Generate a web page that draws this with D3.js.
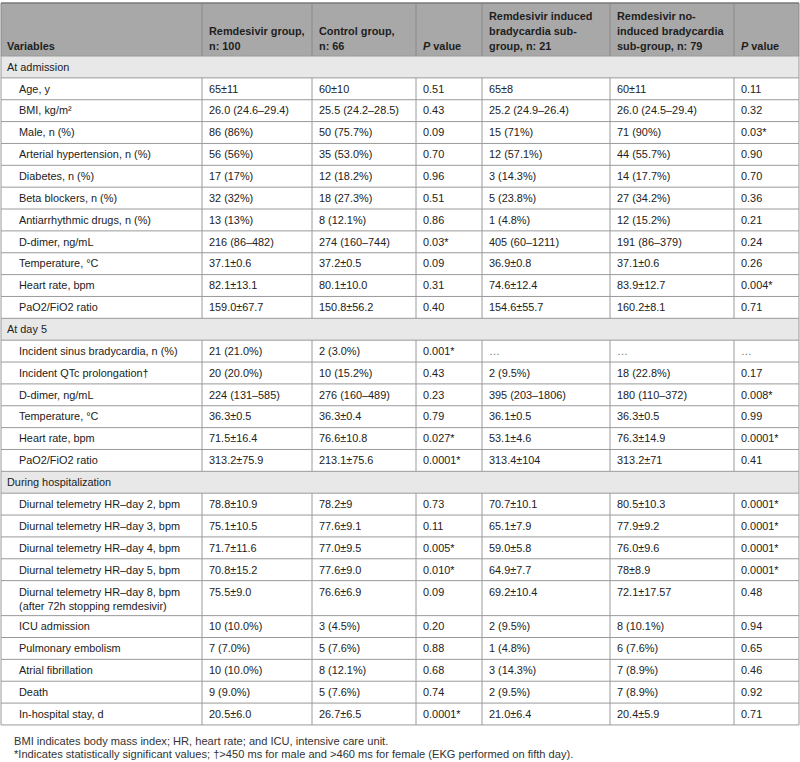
<!DOCTYPE html>
<html>
<head>
<meta charset="utf-8">
<script src="https://cdn.jsdelivr.net/npm/d3@7"></script>
<style>
  body { margin: 0; background: #fff; }
  svg text { font-family: "Liberation Sans", Arial, sans-serif; }
</style>
</head>
<body>
<svg id="tbl"></svg>
<script>
// ---- data ----
var columnHeaders = [
  ["Variables"],
  ["Remdesivir group,", "n: 100"],
  ["Control group,", "n: 66"],
  ["P value"],
  ["Remdesivir induced", "bradycardia sub-", "group, n: 21"],
  ["Remdesivir no-", "induced bradycardia", "sub-group, n: 79"],
  ["P value"]
];
var sectionTitles = ["At admission", "At day 5", "During hospitalization"];
var sectionSizes = [11, 6, 10];

var variables = [
  "Age, y", "BMI, kg/m²", "Male, n (%)", "Arterial hypertension, n (%)", "Diabetes, n (%)",
  "Beta blockers, n (%)", "Antiarrhythmic drugs, n (%)", "D-dimer, ng/mL", "Temperature, °C",
  "Heart rate, bpm", "PaO2/FiO2 ratio",
  "Incident sinus bradycardia, n (%)", "Incident QTc prolongation†", "D-dimer, ng/mL",
  "Temperature, °C", "Heart rate, bpm", "PaO2/FiO2 ratio",
  "Diurnal telemetry HR–day 2, bpm", "Diurnal telemetry HR–day 3, bpm",
  "Diurnal telemetry HR–day 4, bpm", "Diurnal telemetry HR–day 5, bpm",
  "Diurnal telemetry HR–day 8, bpm|(after 72h stopping remdesivir)",
  "ICU admission", "Pulmonary embolism", "Atrial fibrillation", "Death", "In-hospital stay, d"
];
var remdesivirGroup = [
  "65±11", "26.0 (24.6–29.4)", "86 (86%)", "56 (56%)", "17 (17%)", "32 (32%)", "13 (13%)",
  "216 (86–482)", "37.1±0.6", "82.1±13.1", "159.0±67.7",
  "21 (21.0%)", "20 (20.0%)", "224 (131–585)", "36.3±0.5", "71.5±16.4", "313.2±75.9",
  "78.8±10.9", "75.1±10.5", "71.7±11.6", "70.8±15.2", "75.5±9.0",
  "10 (10.0%)", "7 (7.0%)", "10 (10.0%)", "9 (9.0%)", "20.5±6.0"
];
var controlGroup = [
  "60±10", "25.5 (24.2–28.5)", "50 (75.7%)", "35 (53.0%)", "12 (18.2%)", "18 (27.3%)", "8 (12.1%)",
  "274 (160–744)", "37.2±0.5", "80.1±10.0", "150.8±56.2",
  "2 (3.0%)", "10 (15.2%)", "276 (160–489)", "36.3±0.4", "76.6±10.8", "213.1±75.6",
  "78.2±9", "77.6±9.1", "77.0±9.5", "77.6±9.0", "76.6±6.9",
  "3 (4.5%)", "5 (7.6%)", "8 (12.1%)", "5 (7.6%)", "26.7±6.5"
];
var pValueGroups = [
  "0.51", "0.43", "0.09", "0.70", "0.96", "0.51", "0.86", "0.03*", "0.09", "0.31", "0.40",
  "0.001*", "0.43", "0.23", "0.79", "0.027*", "0.0001*",
  "0.73", "0.11", "0.005*", "0.010*", "0.09",
  "0.20", "0.88", "0.68", "0.74", "0.0001*"
];
var bradycardiaSub = [
  "65±8", "25.2 (24.9–26.4)", "15 (71%)", "12 (57.1%)", "3 (14.3%)", "5 (23.8%)", "1 (4.8%)",
  "405 (60–1211)", "36.9±0.8", "74.6±12.4", "154.6±55.7",
  "…", "2 (9.5%)", "395 (203–1806)", "36.1±0.5", "53.1±4.6", "313.4±104",
  "70.7±10.1", "65.1±7.9", "59.0±5.8", "64.9±7.7", "69.2±10.4",
  "2 (9.5%)", "1 (4.8%)", "3 (14.3%)", "2 (9.5%)", "21.0±6.4"
];
var noBradycardiaSub = [
  "60±11", "26.0 (24.5–29.4)", "71 (90%)", "44 (55.7%)", "14 (17.7%)", "27 (34.2%)", "12 (15.2%)",
  "191 (86–379)", "37.1±0.6", "83.9±12.7", "160.2±8.1",
  "…", "18 (22.8%)", "180 (110–372)", "36.3±0.5", "76.3±14.9", "313.2±71",
  "80.5±10.3", "77.9±9.2", "76.0±9.6", "78±8.9", "72.1±17.57",
  "8 (10.1%)", "6 (7.6%)", "7 (8.9%)", "7 (8.9%)", "20.4±5.9"
];
var pValueSub = [
  "0.11", "0.32", "0.03*", "0.90", "0.70", "0.36", "0.21", "0.24", "0.26", "0.004*", "0.71",
  "…", "0.17", "0.008*", "0.99", "0.0001*", "0.41",
  "0.0001*", "0.0001*", "0.0001*", "0.0001*", "0.48",
  "0.94", "0.65", "0.46", "0.92", "0.71"
];
var footnotes = [
  "BMI indicates body mass index; HR, heart rate; and ICU, intensive care unit.",
  "*Indicates statistically significant values; †>450 ms for male and >460 ms for female (EKG performed on fifth day)."
];

drawTable("#tbl");

function drawTable(id){
  var width = 800, height = 762;
  var top = 3, headH = 53, rowH = 21.86, lineH = 14;
  var colEdges = [1, 202, 312, 416, 482, 610, 734, 799];
  var colKeys = d3.range(7);
  var colX = d3.scaleOrdinal().domain(colKeys).range(colEdges);
  var pad = 7, indent = 19;
  var bodySize = "10.9px";
  var columns = [variables, remdesivirGroup, controlGroup, pValueGroups, bradycardiaSub, noBradycardiaSub, pValueSub];

  var svg = d3.select(id).attr("width", width).attr("height", height);

  // build row list: sections + data rows
  var rows = [];
  var k = 0;
  sectionTitles.forEach(function(t, s){
    rows.push({type: "section", label: t});
    for (var j = 0; j < sectionSizes[s]; j++, k++) {
      var lines = variables[k].split("|");
      rows.push({type: "data", idx: k, lines: lines.length});
    }
  });
  var y0 = top + headH;
  rows.forEach(function(r){
    r.h = r.lines > 1 ? 35 : rowH;
    r.y = y0;
    y0 += r.h;
  });
  var tableBottom = y0;

  // header background
  svg.append("rect")
     .attr("x", colX(0)).attr("y", top)
     .attr("width", colEdges[7] - colEdges[0]).attr("height", headH)
     .attr("fill", "#a8a8a8");

  // section backgrounds
  svg.selectAll("rect.sec")
     .data(rows.filter(function(r){ return r.type == "section"; }))
     .enter().append("rect")
     .attr("class", "sec")
     .attr("x", colX(0)).attr("y", function(d){ return d.y; })
     .attr("width", colEdges[7] - colEdges[0]).attr("height", function(d){ return d.h; })
     .attr("fill", "#e8e8e8");

  // horizontal lines
  svg.selectAll("line.h")
     .data(rows.map(function(r){ return r.y; }).concat([tableBottom]))
     .enter().append("line")
     .attr("x1", colX(0)).attr("x2", colEdges[7])
     .attr("y1", function(d){ return d; }).attr("y2", function(d){ return d; })
     .attr("stroke", "#9a9a9a").attr("stroke-width", 1);

  svg.append("line")
     .attr("x1", colX(0)).attr("x2", colEdges[7])
     .attr("y1", top).attr("y2", top)
     .attr("stroke", "#7a7a7a").attr("stroke-width", 1.5);

  // vertical lines: header
  svg.selectAll("line.vh")
     .data(colEdges)
     .enter().append("line")
     .attr("x1", function(d){ return d; }).attr("x2", function(d){ return d; })
     .attr("y1", top).attr("y2", top + headH)
     .attr("stroke", "#888").attr("stroke-width", 1);

  // vertical lines: data rows (skip inner edges on section rows)
  rows.forEach(function(r){
    var edges = r.type == "section" ? [colEdges[0], colEdges[7]] : colEdges;
    svg.append("g").selectAll("line")
       .data(edges)
       .enter().append("line")
       .attr("x1", function(d){ return d; }).attr("x2", function(d){ return d; })
       .attr("y1", r.y).attr("y2", r.y + r.h)
       .attr("stroke", "#9a9a9a").attr("stroke-width", 1);
  });

  // header text
  var headG = svg.append("g");
  columnHeaders.forEach(function(lines, c){
    var n = lines.length;
    lines.forEach(function(t, i){
      var txt = headG.append("text")
         .attr("x", colX(c) + (c == 0 ? 6 : pad))
         .attr("y", top + headH - 6 - (n - 1 - i) * 15)
         .attr("font-size", "10.9px")
         .attr("font-weight", "bold")
         .attr("fill", "#1e1e1e");
      if (t == "P value") {
        txt.append("tspan").attr("font-style", "italic").text("P");
        txt.append("tspan").text(" value");
      } else {
        txt.text(t);
      }
    });
  });

  // section labels
  svg.selectAll("text.sec")
     .data(rows.filter(function(r){ return r.type == "section"; }))
     .enter().append("text")
     .attr("class", "sec")
     .attr("x", colX(0) + 6)
     .attr("y", function(d){ return d.y + d.h / 2 + 3.8; })
     .attr("font-size", bodySize)
     .attr("fill", "#222")
     .text(function(d){ return d.label; });

  // cells
  var dataRows = rows.filter(function(r){ return r.type == "data"; });
  colKeys.forEach(function(c){
    var g = svg.append("g");
    dataRows.forEach(function(r){
      var lines = columns[c][r.idx].split("|");
      var ty = r.lines > 1 ? r.y + 15 : r.y + r.h / 2 + 3.8;
      lines.forEach(function(t, i){
        g.append("text")
         .attr("x", colX(c) + (c == 0 ? indent - 1 : pad))
         .attr("y", ty + i * lineH)
         .attr("font-size", bodySize)
         .attr("fill", t == "…" ? "#777" : "#222")
         .text(t);
      });
    });
  });

  // footnotes
  svg.selectAll("text.note")
     .data(footnotes)
     .enter().append("text")
     .attr("class", "note")
     .attr("x", 14)
     .attr("y", function(d, i){ return tableBottom + 20.5 + i * 12.8; })
     .attr("font-size", "11.1px")
     .attr("fill", "#333")
     .text(function(d){ return d; });
}
</script>
</body>
</html>
